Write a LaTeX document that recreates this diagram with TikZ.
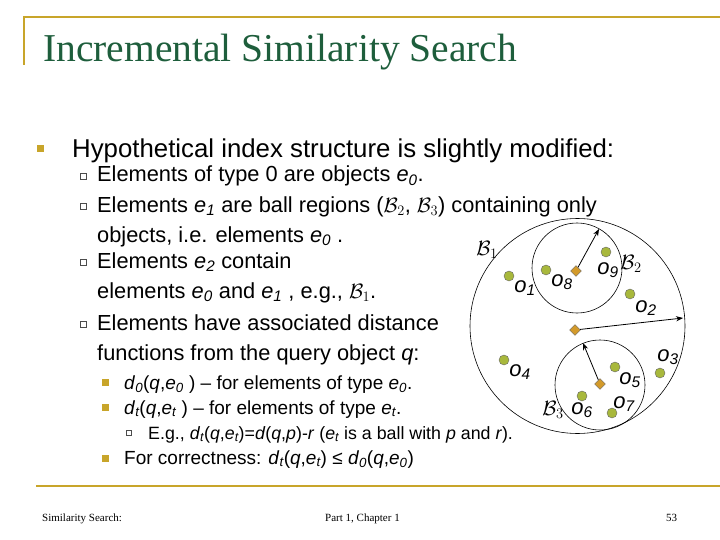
\documentclass[tikz,border=0pt]{standalone}
\usepackage{fontspec}
\setmainfont{Liberation Sans}
\newfontfamily\serifft{Liberation Serif}
\usetikzlibrary{arrows.meta}
\definecolor{gold}{HTML}{C8A52A}
\definecolor{titlegreen}{HTML}{1E5E3C}
\definecolor{dotgreen}{HTML}{A8B83C}
\definecolor{diam}{HTML}{D39A2A}
\tikzset{
  txt/.style={anchor=base west,inner sep=0pt,font=\fontsize{21.8}{24}\selectfont},
  bigtxt/.style={anchor=base west,inner sep=0pt,font=\fontsize{25.8}{28}\selectfont},
  small/.style={anchor=base west,inner sep=0pt,font=\fontsize{19}{21}\selectfont},
  goldb/.style={fill=gold,draw=none,minimum size=7pt,inner sep=0pt},
  hollowb/.style={draw=black!70,line width=0.6pt,minimum size=6pt,inner sep=0pt},
  obj/.style={circle,fill=dotgreen,draw=black!60,line width=0.4pt,minimum size=10pt,inner sep=0pt},
  ctr/.style={diamond,fill=diam,draw=black!60,line width=0.4pt,minimum size=11pt,inner sep=0pt},
  lab/.style={inner sep=0pt,font=\fontsize{22}{24}\selectfont},
  ball/.style={draw=black,line width=0.6pt},
  rad/.style={-{Stealth[length=7pt]},line width=0.8pt},
  foot/.style={inner sep=0pt,anchor=base west,font=\serifft\fontsize{11}{13}\selectfont}
}
\usetikzlibrary{shapes.geometric}
\begin{document}
\begin{tikzpicture}[x=1pt,y=-1pt]
\useasboundingbox (0,0) rectangle (720,540);
\draw[gold,line width=1.2pt] (720,17) -- (24,17) -- (24,65);
\draw[gold,line width=1.5pt] (36,486) -- (720,486);
\node[anchor=base west,inner sep=0pt,text=titlegreen,font=\serifft\fontsize{39.5}{42}\selectfont] (title) at (43,62) {Incremental Similarity Search};

\node[goldb] (b0) at (40,149) {};
\node[bigtxt] (t0) at (72,158) {Hypothetical index structure is slightly modified:};
\node[hollowb] (b1) at (83,176) {};
\node[txt] (t1) at (97,182) {Elements of type 0 are objects \emph{e}$_{\mathit{0}}$.};
\node[hollowb] (b2) at (83,206) {};
\node[txt] (t2) at (97,212) {Elements \emph{e}$_{\mathit{1}}$ are ball regions ($\mathcal{B}_2$, $\mathcal{B}_3$) containing only};
\node[txt] (t2b) at (97,242) {objects, i.e. elements \emph{e}$_{\mathit{0}}$ .};
\node[hollowb] (b3) at (83,262) {};
\node[txt] (t3) at (97,268) {Elements \emph{e}$_{\mathit{2}}$ contain};
\node[txt] (t3b) at (97,298) {elements \emph{e}$_{\mathit{0}}$ and \emph{e}$_{\mathit{1}}$ , e.g., $\mathcal{B}_1$.};
\node[hollowb] (b4) at (83,324) {};
\node[txt] (t4) at (97,330) {Elements have associated distance};
\node[txt] (t4b) at (97,360) {functions from the query object \emph{q}:};
\node[goldb] (b5) at (105,382) {};
\node[small] (t5) at (124,389) {\emph{d}$_{\mathit{0}}$(\emph{q},\emph{e}$_{\mathit{0}}$ ) -- for elements of type \emph{e}$_{\mathit{0}}$.};
\node[goldb] (b6) at (105,407) {};
\node[small] (t6) at (124,414) {\emph{d}$_{\mathit{t}}$(\emph{q},\emph{e}$_{\mathit{t}}$ ) -- for elements of type \emph{e}$_{\mathit{t}}$.};
\node[hollowb,minimum size=5pt] (b7) at (129,433) {};
\node[anchor=base west,inner sep=0pt,font=\fontsize{17.8}{19}\selectfont] (t7) at (148,439) {E.g., \emph{d}$_{\mathit{t}}$(\emph{q},\emph{e}$_{\mathit{t}}$)=\emph{d}(\emph{q},\emph{p})-\emph{r} (\emph{e}$_{\mathit{t}}$ is a ball with \emph{p} and \emph{r}).};
\node[goldb] (b8) at (105,458) {};
\node[small] (t8) at (124,464) {For correctness: \emph{d}$_{\mathit{t}}$(\emph{q},\emph{e}$_{\mathit{t}}$) ≤ \emph{d}$_{\mathit{0}}$(\emph{q},\emph{e}$_{\mathit{0}}$)};

% diagram
\draw[ball] (577.5,326) circle (107.5);
\draw[ball] (577,268) circle (45);
\draw[ball] (600,385) circle (45);
\node[ctr] (c1) at (575,330) {};
\node[ctr] (c2) at (576,271) {};
\node[ctr] (c3) at (600,384) {};
\coordinate (r1) at (683,318);
\coordinate (r2) at (599,229);
\coordinate (r3) at (583,343);
\draw[rad] (c1) -- (r1);
\draw[rad] (c2) -- (r2);
\draw[rad] (c3) -- (r3);
\node[obj] (o1) at (509,276) {};
\node[obj] (o2) at (630,294) {};
\node[obj] (o3) at (660,373) {};
\node[obj] (o4) at (504,360) {};
\node[obj] (o5) at (615,367) {};
\node[obj] (o6) at (582,396) {};
\node[obj] (o7) at (612,413) {};
\node[obj] (o8) at (546,270) {};
\node[obj] (o9) at (606,252) {};
\node[lab] (lo1) at (525,288) {\emph{o}$_{\mathit{1}}$};
\node[lab] (lo2) at (646,308) {\emph{o}$_{\mathit{2}}$};
\node[lab] (lo3) at (668,357) {\emph{o}$_{\mathit{3}}$};
\node[lab] (lo4) at (520,372) {\emph{o}$_{\mathit{4}}$};
\node[lab] (lo5) at (630,380) {\emph{o}$_{\mathit{5}}$};
\node[lab] (lo6) at (582,410) {\emph{o}$_{\mathit{6}}$};
\node[lab] (lo7) at (624,404) {\emph{o}$_{\mathit{7}}$};
\node[lab] (lo8) at (562,282) {\emph{o}$_{\mathit{8}}$};
\node[lab] (lo9) at (608,270) {\emph{o}$_{\mathit{9}}$};
\node[lab] (lb1) at (487,250) {$\mathcal{B}_1$};
\node[lab] (lb2) at (631,264) {$\mathcal{B}_2$};
\node[lab] (lb3) at (553,410) {$\mathcal{B}_3$};

\node[foot] (f1) at (42,521) {Similarity Search:};
\node[foot] (f2) at (325,521) {Part 1, Chapter 1};
\node[foot] (f3) at (666,521) {53};
\end{tikzpicture}
\end{document}
